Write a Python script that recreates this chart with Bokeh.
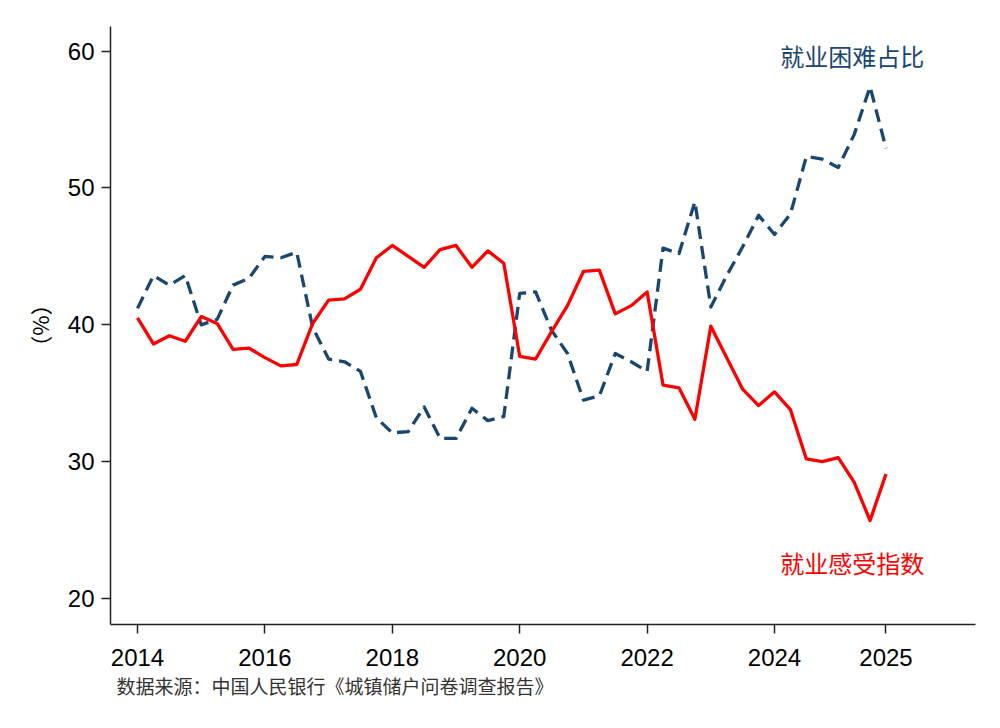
from bokeh.plotting import figure
from bokeh.models import Range1d, FixedTicker, Label, ColumnDataSource, Title
from bokeh.embed import file_html
from bokeh.resources import INLINE

# ---- data (quarterly, 2014Q1 .. 2025Q4) ----
years = list(range(2014, 2026))
quarters = [0.0, 0.25, 0.5, 0.75]
x_time = [y + q for y in years for q in quarters]

employment_sentiment = [  # 就业感受指数
    40.5, 38.6, 39.2, 38.8, 40.6, 40.1, 38.2, 38.3, 37.6, 37.0, 37.1, 40.1,
    41.8, 41.9, 42.6, 44.9, 45.8, 45.0, 44.2, 45.5, 45.8, 44.2, 45.4, 44.5,
    37.7, 37.5, 39.5, 41.4, 43.9, 44.0, 40.8, 41.4, 42.4, 35.6, 35.4, 33.1,
    39.9, 37.6, 35.3, 34.1, 35.1, 33.8, 30.2, 30.0, 30.3, 28.5, 25.7, 29.1,
]
employment_difficulty = [  # 就业困难占比
    41.2, 43.6, 42.9, 43.6, 40.0, 40.4, 42.9, 43.4, 45.0, 44.9, 45.3, 39.8,
    37.5, 37.3, 36.6, 33.2, 32.1, 32.2, 34.0, 31.7, 31.7, 33.9, 33.0, 33.3,
    42.3, 42.4, 39.6, 37.9, 34.5, 34.8, 37.9, 37.3, 36.6, 45.6, 45.2, 49.0,
    41.3, 43.6, 45.7, 48.0, 46.6, 48.1, 52.3, 52.1, 51.5, 53.9, 57.4, 52.9,
]

x_ticks = [2014, 2016, 2018, 2020, 2022, 2024, 2025.75]
x_tick_labels = ["2014", "2016", "2018", "2020", "2022", "2024", "2025"]
y_ticks = [20, 30, 40, 50, 60]

series_names = ["就业困难占比", "就业感受指数"]
source_note = "数据来源：中国人民银行《城镇储户问卷调查报告》"
y_label = "（%）"

RED = "#ff0000"
NAVY = "#1a476f"
CJK = "Noto Sans CJK SC"
LAT = "Liberation Sans"

src = ColumnDataSource(dict(x=x_time, sent=employment_sentiment, diff=employment_difficulty))

p = figure(width=984, height=712, output_backend="svg", toolbar_location=None,
           x_range=Range1d(2013.576, 2027.155), y_range=Range1d(18.1, 61.8),
           min_border_left=110, min_border_right=9, min_border_top=26,
           min_border_bottom=88)

p.outline_line_color = None
p.xgrid.visible = False
p.ygrid.visible = False
p.background_fill_color = "white"
p.border_fill_color = "white"

p.line("x", "diff", source=src, line_color=NAVY, line_width=3.3, line_dash="13 7",
       line_join="round")
p.line("x", "sent", source=src, line_color=RED, line_width=3.3, line_join="round")

for ax in (p.xaxis, p.yaxis):
    ax.axis_line_color = "#222222"
    ax.axis_line_width = 1.5
    ax.major_tick_line_color = "#222222"
    ax.major_tick_line_width = 1.5
    ax.major_tick_out = 9
    ax.major_tick_in = 0
    ax.minor_tick_out = 0
    ax.minor_tick_in = 0
    ax.major_label_text_font = LAT
    ax.major_label_text_font_size = "24px"
    ax.major_label_text_color = "black"

p.xaxis.major_label_standoff = 15
p.yaxis.major_label_standoff = 7

p.xaxis.ticker = FixedTicker(ticks=x_ticks)
p.xaxis.major_label_overrides = {t: l for t, l in zip(x_ticks, x_tick_labels)}
p.yaxis.ticker = FixedTicker(ticks=y_ticks)

p.yaxis.axis_label = y_label
p.yaxis.axis_label_text_font = CJK
p.yaxis.axis_label_text_font_size = "22px"
p.yaxis.axis_label_text_font_style = "normal"
p.yaxis.axis_label_text_color = "black"
p.yaxis.axis_label_standoff = 10

p.add_layout(Label(x=2025.22, y=59.7, text=series_names[0], text_font=CJK,
                   text_font_size="24px", text_color=NAVY, text_align="center",
                   text_baseline="middle"))
p.add_layout(Label(x=2025.22, y=22.6, text=series_names[1], text_font=CJK,
                   text_font_size="24px", text_color=RED, text_align="center",
                   text_baseline="middle"))

p.add_layout(Title(text=source_note, text_font=CJK, text_font_size="19px",
                   text_font_style="normal", text_color="#333333", align="left",
                   offset=6, standoff=2), "below")

open("out.html", "w").write(file_html(p, INLINE))
